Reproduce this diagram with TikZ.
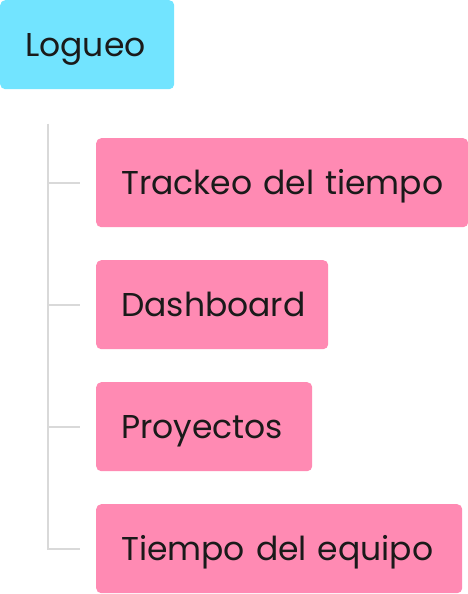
\documentclass[tikz,border=0pt]{standalone}
\usepackage{fontspec}
\setmainfont{Poppins}
\definecolor{logcyan}{HTML}{72E4FF}
\definecolor{itempink}{HTML}{FF8AB3}
\definecolor{treegray}{HTML}{D9D9D9}
\definecolor{labelink}{HTML}{1A1A1A}
\tikzset{
  card/.style={rounded corners=5pt, anchor=north west, minimum height=89pt,
    inner xsep=25pt, inner ysep=0pt, align=left, text=labelink,
    text height=24pt, text depth=0pt,
    font=\fontsize{33}{38}\selectfont},
  root/.style={card, fill=logcyan},
  item/.style={card, fill=itempink},
  branch/.style={draw=treegray, line width=2pt}
}
\begin{document}
\begin{tikzpicture}[x=1pt,y=1pt]
\useasboundingbox (0,0) rectangle (468,594);

\node[root, text width=124pt] (logueo) at (0,594) {Logueo};

\node[item, text width=322pt] (trackeo) at (96,456) {Trackeo del tiempo};
\node[item, text width=182pt] (dashboard) at (96,334) {Dashboard};
\node[item, text width=166pt] (proyectos) at (96,212) {Proyectos};
\node[item, text width=316pt] (equipo) at (96,90) {Tiempo del equipo};

\coordinate (trunk) at (48,470);

\draw[branch] (trunk) |- ([xshift=-16pt]trackeo.west);
\draw[branch] (trunk) |- ([xshift=-16pt]dashboard.west);
\draw[branch] (trunk) |- ([xshift=-16pt]proyectos.west);
\draw[branch] (trunk) |- ([xshift=-16pt]equipo.west);

\end{tikzpicture}
\end{document}
